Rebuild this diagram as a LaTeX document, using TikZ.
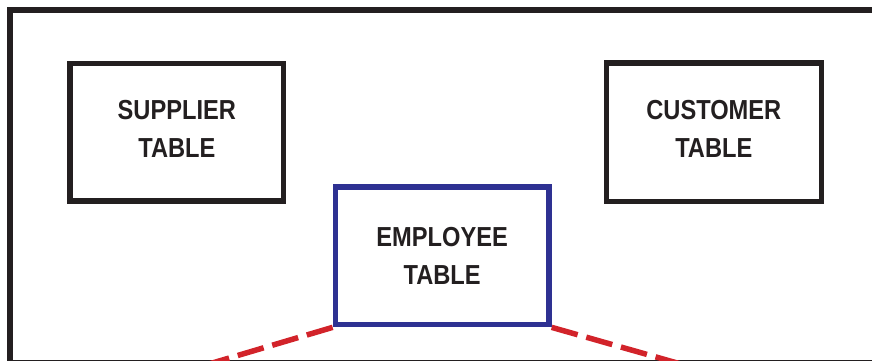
\documentclass[tikz,border=0pt]{standalone}
\usepackage{fontspec}
\newfontfamily\labfont[FakeStretch=0.86]{Liberation Sans Bold}
\definecolor{framecol}{HTML}{231F20}
\definecolor{empblue}{HTML}{2E3192}
\definecolor{dashred}{HTML}{D2232A}
\begin{document}
\begin{tikzpicture}[x=1pt,y=-1pt,
  tablebox/.style={draw=framecol, line width=5.5pt, rectangle, inner sep=0pt,
    align=center, text=framecol,
    font=\labfont\fontsize{27.5}{38.5}\selectfont},
  empbox/.style={tablebox, draw=empblue, line width=5.3pt},
  reddash/.style={draw=dashred, line width=5.5pt, dash pattern=on 27pt off 9pt}]
\useasboundingbox (0,0) rectangle (872,361);
\clip (0,0) rectangle (872,361);
% outer frame
\draw[framecol, line width=5.3pt] (10,10) rectangle (875.5,362.5);
% tables
\node[tablebox, minimum width=213.7pt, minimum height=137.5pt]
  (supplier) at (176.85,132.25) {SUPPLIER\\TABLE\rule[-7pt]{0pt}{0pt}};
\node[tablebox, minimum width=215pt, minimum height=138.3pt]
  (customer) at (713.8,132.15) {CUSTOMER\\TABLE\rule[-7pt]{0pt}{0pt}};
\node[empbox, minimum width=213.7pt, minimum height=137.7pt]
  (employee) at (442.15,255.85) {EMPLOYEE\\TABLE};
% dashed connectors
\coordinate (lend) at (155,380);
\coordinate (rend) at (737,380);
\draw[reddash] (employee.south west) -- (lend);
\draw[reddash] (employee.south east) -- (rend);
\end{tikzpicture}
\end{document}
